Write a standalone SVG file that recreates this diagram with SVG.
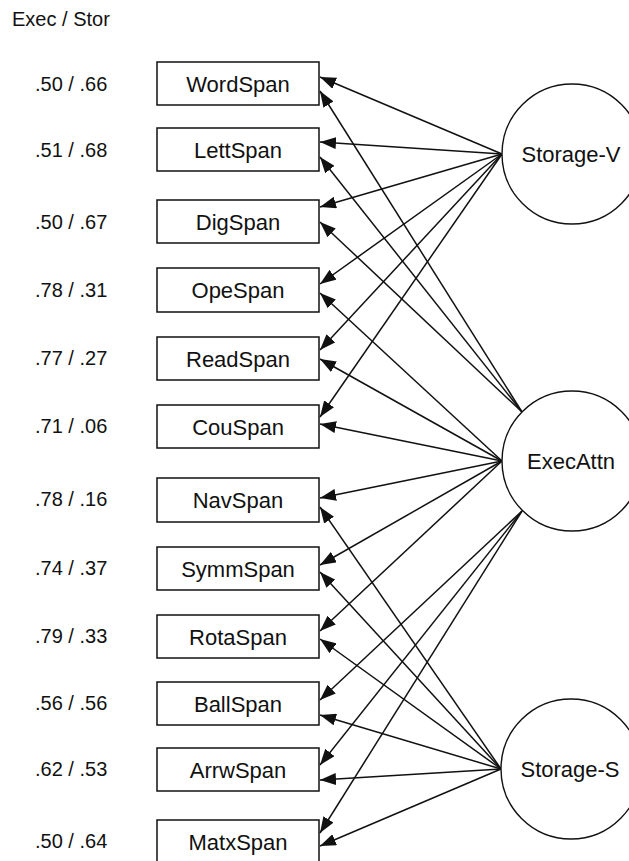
<svg xmlns="http://www.w3.org/2000/svg" width="629" height="861" viewBox="0 0 629 861">
  <style>
    text { font-family: "Liberation Sans", Arial, sans-serif; fill: #111; }
    .hdr { font-size: 20px; }
    .val { font-size: 20px; }
    .lbl { font-size: 22px; text-anchor: middle; }
    .box { fill: #fff; stroke: #111; stroke-width: 1.5; }
    .lat { fill: #fff; stroke: #111; stroke-width: 1.4; }
    .path { stroke: #111; stroke-width: 1.5; fill: none; marker-end: url(#head); }
  </style>
  <defs>
    <marker id="head" markerUnits="userSpaceOnUse" markerWidth="16" markerHeight="12" refX="16" refY="6" orient="auto">
      <path d="M0,0 L16,6 L0,12 z" fill="#111"/>
    </marker>
  </defs>

  <rect width="629" height="861" fill="#fff"/>

  <text class="hdr" x="12" y="26">Exec / Stor</text>

  <!-- loadings: Exec / Stor -->
  <g id="loadings">
    <text class="val" x="35" y="91">.50 / .66</text>
    <text class="val" x="35" y="157">.51 / .68</text>
    <text class="val" x="35" y="229">.50 / .67</text>
    <text class="val" x="35" y="297">.78 / .31</text>
    <text class="val" x="35" y="365">.77 / .27</text>
    <text class="val" x="35" y="433">.71 / .06</text>
    <text class="val" x="35" y="506">.78 / .16</text>
    <text class="val" x="35" y="575">.74 / .37</text>
    <text class="val" x="35" y="643">.79 / .33</text>
    <text class="val" x="35" y="710">.56 / .56</text>
    <text class="val" x="35" y="776">.62 / .53</text>
    <text class="val" x="35" y="848">.50 / .64</text>
  </g>

  <!-- paths from latent factors to the span tasks -->
  <g id="connectors">
    <!-- Storage-V -->
    <line class="path" x1="502" y1="154" x2="320" y2="77"/>
    <line class="path" x1="502" y1="154" x2="320" y2="142"/>
    <line class="path" x1="502" y1="154" x2="320" y2="207"/>
    <line class="path" x1="502" y1="154" x2="320" y2="284"/>
    <line class="path" x1="502" y1="154" x2="320" y2="350"/>
    <line class="path" x1="502" y1="154" x2="320" y2="417"/>
    <!-- ExecAttn -->
    <line class="path" x1="522" y1="412" x2="320" y2="91"/>
    <line class="path" x1="522" y1="412" x2="320" y2="157"/>
    <line class="path" x1="522" y1="412" x2="320" y2="222"/>
    <line class="path" x1="502" y1="461" x2="320" y2="293"/>
    <line class="path" x1="502" y1="461" x2="320" y2="359"/>
    <line class="path" x1="502" y1="461" x2="320" y2="424"/>
    <line class="path" x1="502" y1="461" x2="320" y2="498"/>
    <line class="path" x1="502" y1="461" x2="320" y2="565"/>
    <line class="path" x1="502" y1="461" x2="320" y2="631"/>
    <line class="path" x1="522" y1="511" x2="320" y2="700"/>
    <line class="path" x1="522" y1="511" x2="320" y2="765"/>
    <line class="path" x1="522" y1="511" x2="320" y2="833"/>
    <!-- Storage-S -->
    <line class="path" x1="501" y1="769" x2="320" y2="507"/>
    <line class="path" x1="501" y1="769" x2="320" y2="572"/>
    <line class="path" x1="501" y1="769" x2="320" y2="639"/>
    <line class="path" x1="501" y1="769" x2="320" y2="715"/>
    <line class="path" x1="501" y1="769" x2="320" y2="780"/>
    <line class="path" x1="501" y1="769" x2="320" y2="846"/>
  </g>

  <!-- observed span tasks -->
  <g id="WordSpan"><rect class="box" x="157" y="62" width="162" height="43"/><text class="lbl" x="238" y="92">WordSpan</text></g>
  <g id="LettSpan"><rect class="box" x="157" y="128" width="162" height="43"/><text class="lbl" x="238" y="158">LettSpan</text></g>
  <g id="DigSpan"><rect class="box" x="157" y="200" width="162" height="43"/><text class="lbl" x="238" y="230">DigSpan</text></g>
  <g id="OpeSpan"><rect class="box" x="157" y="268" width="162" height="44"/><text class="lbl" x="238" y="298">OpeSpan</text></g>
  <g id="ReadSpan"><rect class="box" x="157" y="337" width="162" height="43"/><text class="lbl" x="238" y="367">ReadSpan</text></g>
  <g id="CouSpan"><rect class="box" x="157" y="405" width="162" height="43"/><text class="lbl" x="238" y="435">CouSpan</text></g>
  <g id="NavSpan"><rect class="box" x="157" y="478" width="162" height="44"/><text class="lbl" x="238" y="508">NavSpan</text></g>
  <g id="SymmSpan"><rect class="box" x="157" y="547" width="162" height="43"/><text class="lbl" x="238" y="577">SymmSpan</text></g>
  <g id="RotaSpan"><rect class="box" x="157" y="615" width="162" height="43"/><text class="lbl" x="238" y="645">RotaSpan</text></g>
  <g id="BallSpan"><rect class="box" x="157" y="682" width="162" height="43"/><text class="lbl" x="238" y="712">BallSpan</text></g>
  <g id="ArrwSpan"><rect class="box" x="157" y="748" width="162" height="43"/><text class="lbl" x="238" y="778">ArrwSpan</text></g>
  <g id="MatxSpan"><rect class="box" x="157" y="820" width="162" height="44"/><text class="lbl" x="238" y="850">MatxSpan</text></g>

  <!-- latent factors -->
  <g id="Storage-V"><circle class="lat" cx="572" cy="154" r="70"/><text class="lbl" x="571" y="162">Storage-V</text></g>
  <g id="ExecAttn"><circle class="lat" cx="572" cy="461" r="70"/><text class="lbl" x="571" y="469">ExecAttn</text></g>
  <g id="Storage-S"><circle class="lat" cx="571" cy="769" r="70"/><text class="lbl" x="570" y="777">Storage-S</text></g>
</svg>
